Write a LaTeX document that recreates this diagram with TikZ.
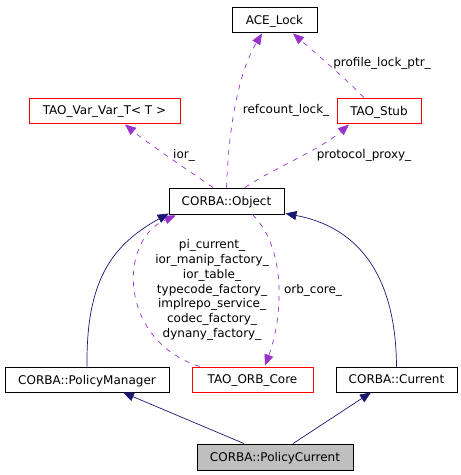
\documentclass[tikz,border=0pt]{standalone}
\usepackage{fontspec}
\setmainfont{DejaVu Sans}
\usetikzlibrary{arrows.meta,calc}
\definecolor{navyedge}{HTML}{191970}
\definecolor{purpedge}{HTML}{9932CC}
\definecolor{boxgray}{HTML}{BFBFBF}
\begin{document}
\begin{tikzpicture}[x=1pt,y=-1pt,
  box/.style={draw=black,line width=0.9pt,inner sep=0pt,minimum height=25pt,font=\fontsize{12}{14}\selectfont,text depth=0pt,anchor=center},
  redbox/.style={box,draw=red},
  lbl/.style={font=\fontsize{12}{14.8}\selectfont,inner sep=0pt,align=center},
  inh/.style={draw=navyedge,line width=0.7pt,-{Triangle[length=11pt,width=9pt]},fill=none},
  use/.style={draw=purpedge,line width=0.7pt,dash pattern=on 5pt off 6pt,-{Triangle[length=11pt,width=9pt,fill=purpedge]}}]
\useasboundingbox (0,0) rectangle (461,475);
\node[box,minimum width=85pt] (ace) at (274.5,19.5) {ACE\_Lock};
\node[redbox,minimum width=151pt] (var) at (104.5,110.5) {TAO\_Var\_Var\_T< T >};
\node[redbox,minimum width=84pt] (stub) at (379,110.5) {TAO\_Stub};
\node[box,minimum width=115pt,minimum height=26pt] (obj) at (226.5,201) {CORBA::Object};
\node[box,minimum width=164pt] (pm) at (87,379.5) {CORBA::PolicyManager};
\node[redbox,minimum width=121pt] (core) at (252.5,379.5) {TAO\_ORB\_Core};
\node[box,minimum width=121pt] (cur) at (396.5,379.5) {CORBA::Current};
\node[box,fill=boxgray,minimum width=156pt,minimum height=26pt] (pc) at (275,457) {CORBA::PolicyCurrent};

% purple usage edges
\draw[use] (obj.north) .. controls (229,120) and (240,70) .. ($(ace.south)+(-12.5,1)$);
\draw[use] ($(stub.north)+(-15,0)$) .. controls (345,78) and (312,50) .. ($(ace.south)+(18.5,1)$);
\draw[use] ($(obj.north)+(-13.5,0)$) .. controls (185,168) and (150,145) .. ($(var.south)+(20.5,1)$);
\draw[use] ($(obj.north)+(18.5,0)$) .. controls (270,170) and (320,150) .. ($(stub.south)+(-30,1)$);
\draw[use] ($(core.north west)+(8,0)$) .. controls (118,340) and (118,240) .. ($(obj.south west)+(7,1)$);
\draw[use] ($(obj.south)+(26,0)$) .. controls (288,250) and (282,320) .. ($(core.north)+(12.5,-1)$);

% navy inheritance edges
\draw[inh] (pm.north) .. controls (86,280) and (112,245) .. ($(obj.south west)+(0,-1)$);
\draw[inh] (cur.north) .. controls (396,280) and (362,228) .. ($(obj.south east)+(1,-1)$);
\draw[inh] ($(pc.north)+(-31,0)$) -- ($(pm.south)+(36,0)$);
\draw[inh] ($(pc.north)+(18,0)$) -- ($(cur.south)+(-25.5,0)$);

% labels
\node[lbl] (l1) at (286,110) {refcount\_lock\_};
\node[lbl] (l2) at (382,63) {profile\_lock\_ptr\_};
\node[lbl] (l3) at (184,155) {ior\_};
\node[lbl] (l4) at (364,155) {protocol\_proxy\_};
\node[lbl] (l5) at (212,290) {pi\_current\_\\ior\_manip\_factory\_\\ior\_table\_\\typecode\_factory\_\\implrepo\_service\_\\codec\_factory\_\\dynany\_factory\_};
\node[lbl] (l6) at (313,290) {orb\_core\_};
\end{tikzpicture}
\end{document}
